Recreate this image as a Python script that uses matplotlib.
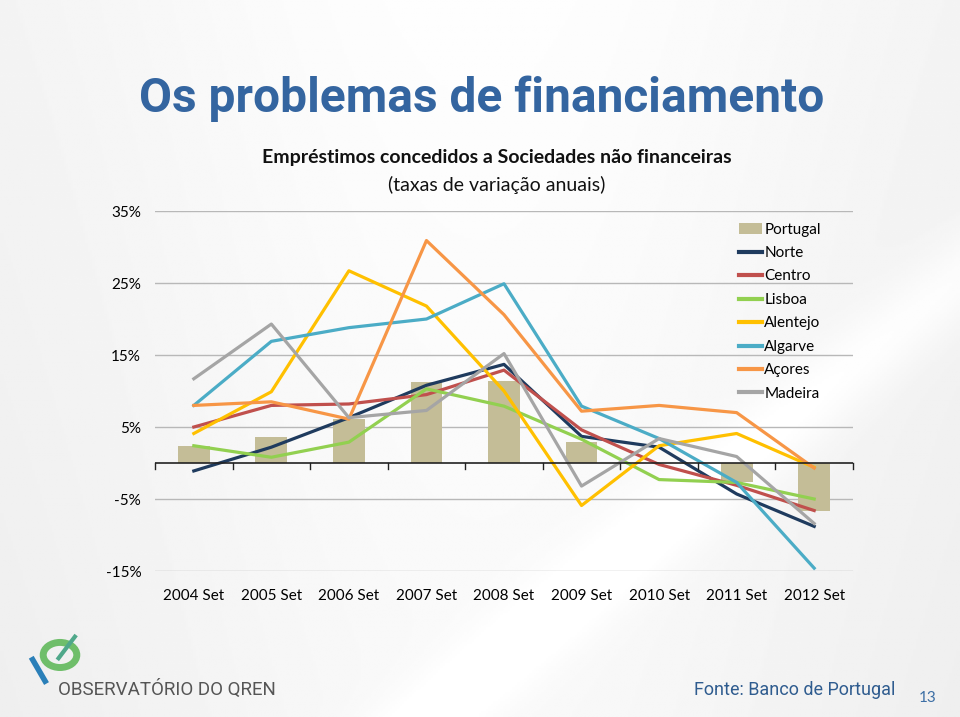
import matplotlib as mpl
import matplotlib.pyplot as plt
import numpy as np
from matplotlib.patches import Circle

mpl.rcParams.update({
    "font.family": ["Lato", "DejaVu Sans"],
    "font.size": 11,
})

# ----- Data (annual growth rates, %) -----
periods = ["2004 Set", "2005 Set", "2006 Set", "2007 Set", "2008 Set",
           "2009 Set", "2010 Set", "2011 Set", "2012 Set"]
portugal = [2.4, 3.6, 6.1, 11.2, 11.4, 2.9, 0.0, -2.6, -6.6]
norte    = [-1.1, 2.2, 6.3, 10.8, 13.7, 3.7, 2.2, -4.3, -8.8]
centro   = [5.0, 8.0, 8.2, 9.5, 12.9, 4.6, -0.2, -3.1, -6.6]
lisboa   = [2.4, 0.8, 2.9, 10.3, 7.9, 3.3, -2.3, -2.7, -5.0]
alentejo = [4.1, 9.9, 26.7, 21.8, 10.0, -5.9, 2.4, 4.1, -0.6]
algarve  = [8.0, 16.9, 18.8, 20.0, 24.9, 7.9, 3.4, -2.7, -14.6]
acores   = [8.0, 8.5, 6.1, 30.9, 20.6, 7.2, 8.0, 7.0, -0.7]
madeira  = [11.7, 19.3, 6.3, 7.3, 15.2, -3.2, 3.4, 0.9, -8.4]
yticks = [-15, -5, 5, 15, 25, 35]

series = [
    ("Norte", norte, "#1F3B5E"),
    ("Centro", centro, "#C0504D"),
    ("Lisboa", lisboa, "#92D050"),
    ("Alentejo", alentejo, "#FFC000"),
    ("Algarve", algarve, "#4BACC6"),
    ("Açores", acores, "#F79646"),
    ("Madeira", madeira, "#A5A5A5"),
]

fig = plt.figure(figsize=(9.6, 7.17), dpi=100)

# ----- Slide background -----
bg = fig.add_axes([0, 0, 1, 1], zorder=-10)
yy, xx = np.mgrid[0:1:300j, 0:1:400j]
grad = 0.94 + 0.055 * np.exp(-((xx - 0.5) ** 2) / 0.2) - 0.02 * yy
stripe = np.exp(-((xx + yy * 0.9 - 1.35) ** 2) / 0.004) * 0.04
img = np.clip(grad + stripe, 0, 1)
bg.imshow(img, cmap="gray", vmin=0, vmax=1, extent=[0, 1, 0, 1],
          aspect="auto", origin="upper")
bg.set_xlim(0, 1)
bg.set_ylim(0, 1)
bg.set_axis_off()

# ----- Chart -----
ax = fig.add_axes([0.1615, 0.2036, 0.727, 0.5021])
ax.set_facecolor("none")
x = np.arange(len(periods))
bars = ax.bar(x, portugal, width=0.41, color="#C4BD97", label="Portugal",
              zorder=2)
handles = [bars]
for name, vals, col in series:
    ln, = ax.plot(x, vals, color=col, lw=2.3, label=name, zorder=3)
    handles.append(ln)

ax.set_xlim(-0.5, len(periods) - 0.5)
ax.set_ylim(-15, 35)
ax.set_yticks(yticks)
ax.set_yticklabels([f"{v}%" for v in yticks])
for v in yticks:
    ax.axhline(v, color="#B8B8B8", lw=1.0, zorder=1)
ax.axhline(0, color="#222222", lw=1.2, zorder=4)
for b in np.arange(-0.5, len(periods), 1.0):
    ax.plot([b, b], [0, -0.9], color="#222222", lw=1.0, zorder=4,
            clip_on=False)
for s in ax.spines.values():
    s.set_visible(False)
ax.tick_params(axis="y", length=0, pad=10, labelsize=11)
ax.set_xticks([])
for i, lab in enumerate(periods):
    ax.text(i, -18.5, lab, ha="center", va="center", fontsize=11)

leg = ax.legend(handles=handles, labels=[h.get_label() for h in handles],
                loc="upper left", bbox_to_anchor=(0.828, 0.985),
                frameon=False, fontsize=11, handlelength=1.5,
                handletextpad=0.15, labelspacing=0.62, borderaxespad=0)
for h in leg.get_lines():
    h.set_linewidth(3)

# ----- Titles -----
fig.text(0.145, 0.862, "Os problemas de financiamento",
         family=["Roboto", "DejaVu Sans"], weight="bold",
         fontsize=34.5, color="#3465A0", ha="left", va="center")
fig.text(0.517, 0.780, "Empréstimos concedidos a Sociedades não financeiras",
         fontsize=14, weight="bold", color="#111111", ha="center",
         va="center")
fig.text(0.517, 0.742, "(taxas de variação anuais)", fontsize=14,
         color="#111111", ha="center", va="center")

# ----- Footer -----
fig.text(0.933, 0.037, "Fonte: Banco de Portugal",
         family=["Roboto", "DejaVu Sans"], fontsize=13,
         color="#2F5C8F", ha="right", va="center")
fig.text(0.966, 0.027, "13", fontsize=11, color="#3D6FA5",
         ha="center", va="center")
fig.text(0.060, 0.039, "OBSERVATÓRIO DO QREN",
         family=["Roboto", "DejaVu Sans"], fontsize=13.5,
         color="#555555", ha="left", va="center")
bg.add_patch(Circle((0.0625, 0.0865), 0.0175, transform=bg.transAxes,
                    fill=False, lw=5, ec="#6FBE6A"))
bg.plot([0.061, 0.078], [0.082, 0.112], color="#4FA88A", lw=3,
        transform=bg.transAxes)
bg.plot([0.034, 0.047], [0.080, 0.050], color="#2A7FB8", lw=4,
        transform=bg.transAxes)

fig.savefig("out.png", dpi=100)
